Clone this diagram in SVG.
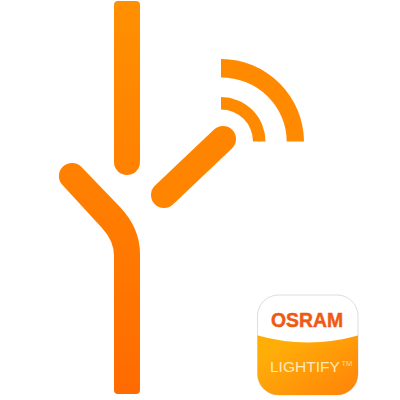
<svg xmlns="http://www.w3.org/2000/svg" width="400" height="400" viewBox="0 0 400 400">
<defs>
<linearGradient id="bar" gradientUnits="userSpaceOnUse" x1="0" y1="0" x2="0" y2="400"><stop offset="0" stop-color="#ff9000"/><stop offset="0.45" stop-color="#ff8000"/><stop offset="1" stop-color="#ff6a00"/></linearGradient>
<linearGradient id="tile" x1="0.1" y1="0.3" x2="0.9" y2="1"><stop offset="0" stop-color="#ffae08"/><stop offset="1" stop-color="#ff8408"/></linearGradient>
<clipPath id="tc"><rect x="257.500" y="295" width="100.500" height="100" rx="21"/></clipPath>
</defs>
<style>
.f{fill:url(#bar)}
.a{fill:#ff8a00}
</style>
<g id="stem-top"><path class="f" d="M118 1H136Q140 1 140 5V162A13 13 0 0 1 114 162V5Q114 1 118 1Z"/></g>
<g id="stem-main"><path class="f" d="M62.500 185A13 13 0 0 1 81.500 167L120 207Q140 228 140 254V390Q140 394 136 394H118Q114 394 114 390V256Q114 241 102 228Z"/></g>
<g id="branch"><path d="M164 195L223 139" fill="none" stroke="#ff8500" stroke-width="26" stroke-linecap="round"/></g>
<g id="signal"><path class="a" d="M221 97A44.500 44.500 0 0 1 265.500 141.500H253A32 32 0 0 0 221 109.500Z"/><path class="a" d="M221 59A83 83 0 0 1 304 141.500H286.700A65.700 64 0 0 0 221 77.500Z"/></g>
<g id="app-icon">
<rect x="257.500" y="295" width="100.500" height="100" rx="21" fill="#fff" stroke="#ddd" stroke-width="1"/>
<g clip-path="url(#tc)"><path d="M256 335Q308 350 360 335V397H256Z" fill="url(#tile)"/></g>
<text x="307" y="327" text-anchor="middle" font-family="Liberation Sans, sans-serif" font-weight="700" font-size="21" fill="#ee5a14" stroke="#ee5a14" stroke-width="0.500" textLength="72" lengthAdjust="spacingAndGlyphs">OSRAM</text>
<text x="270" y="372" font-family="Liberation Sans, sans-serif" font-size="15.500" fill="#ffe9b8">LIGHTIFY</text>
<text x="341.500" y="366" font-family="Liberation Sans, sans-serif" font-size="7.500" fill="#ffd890">TM</text>
</g>
</svg>
